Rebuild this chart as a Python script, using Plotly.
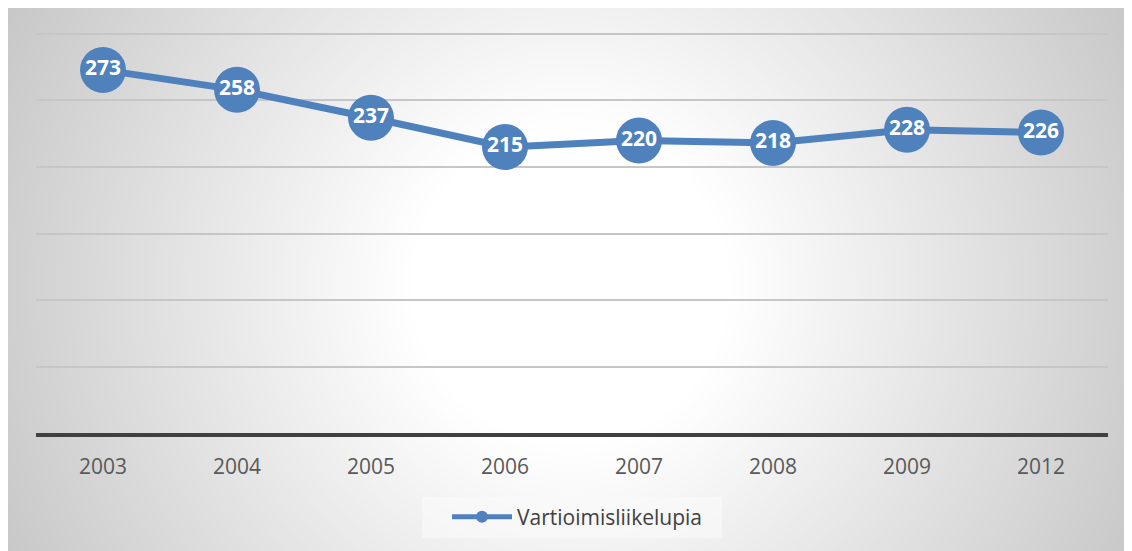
import base64, struct, zlib
import numpy as np
import plotly.graph_objects as go

years = ["2003", "2004", "2005", "2006", "2007", "2008", "2009", "2012"]
values = [273, 258, 237, 215, 220, 218, 228, 226]
series_name = "Vartioimisliikelupia"

BLUE = "#4F81BD"
W, H = 1132, 551
OFF = 8  # page body margin

# ---- radial gradient background as an embedded PNG ----
def make_png(arr):
    h, w = arr.shape
    raw = b"".join(b"\x00" + arr[i].tobytes() for i in range(h))
    def chunk(tag, data):
        c = struct.pack(">I", len(data)) + tag + data
        return c + struct.pack(">I", zlib.crc32(tag + data) & 0xffffffff)
    png = b"\x89PNG\r\n\x1a\n"
    png += chunk(b"IHDR", struct.pack(">IIBBBBB", w, h, 8, 0, 0, 0, 0))
    png += chunk(b"IDAT", zlib.compress(raw, 9))
    png += chunk(b"IEND", b"")
    return "data:image/png;base64," + base64.b64encode(png).decode()

bw, bh = 1127, 545
yy, xx = np.mgrid[0:bh, 0:bw]
cx, cy = 565, 280
r = np.sqrt((xx - cx) ** 2 + (yy - cy) ** 2)
c = 255 - 0.118 * np.clip(r - 160, 0, None)
c = np.clip(c, 196, 255).astype(np.uint8)
bg_uri = make_png(c)

# plot area in screen pixels
px0, px1 = 36, 1108
ytop_val = 303
py_bottom = 433
scale = 399 / 300
py_top = py_bottom - ytop_val * scale
plot_w = px1 - px0
plot_h = py_bottom - py_top

fig = go.Figure()
fig.add_trace(go.Scatter(
    x=years, y=values, mode="lines+markers+text",
    line=dict(color=BLUE, width=7),
    marker=dict(color=BLUE, size=46, line=dict(width=0)),
    text=[str(v) for v in values], textposition="middle center",
    textfont=dict(family="Open Sans", size=21, color="white", weight="bold"),
    showlegend=False, cliponaxis=False,
))
fig.add_trace(go.Scatter(
    x=[None], y=[None], mode="lines+markers", name=series_name,
    line=dict(color=BLUE, width=5),
    marker=dict(color=BLUE, size=12),
))

fig.add_layout_image(dict(
    source=bg_uri, xref="paper", yref="paper",
    x=(5 - px0) / plot_w, y=1 + (py_top - 6) / plot_h,
    sizex=bw / plot_w, sizey=bh / plot_h,
    xanchor="left", yanchor="top", sizing="stretch", layer="below",
))

fig.update_layout(
    width=W, height=H,
    margin=dict(l=px0 - OFF, r=W - (px1 - OFF) - 0, t=py_top - OFF,
                b=H - (py_bottom - OFF)),
    paper_bgcolor="white", plot_bgcolor="rgba(0,0,0,0)",
    font=dict(family="Open Sans", color="#595959"),
    xaxis=dict(
        type="category", range=[-0.5, 7.5], showgrid=False,
        showline=True, linecolor="#404040", linewidth=4,
        ticks="", tickfont=dict(size=21, color="#595959"),
        ticklabelstandoff=12, zeroline=False,
    ),
    yaxis=dict(
        range=[0, ytop_val], tickvals=[50, 100, 150, 200, 250, 300],
        showgrid=True, gridcolor="#c6c6c6", gridwidth=1.5,
        showticklabels=False, zeroline=False, showline=False, ticks="",
    ),
    legend=dict(
        orientation="h", x=(572 - px0) / plot_w, xanchor="center",
        y=(py_bottom - 517) / plot_h, yanchor="middle",
        bgcolor="rgba(250,250,250,0.6)", font=dict(size=21, color="#404040"),
        entrywidth=200, itemwidth=60, indentation=25,
    ),
)

fig.write_html("out.html")
